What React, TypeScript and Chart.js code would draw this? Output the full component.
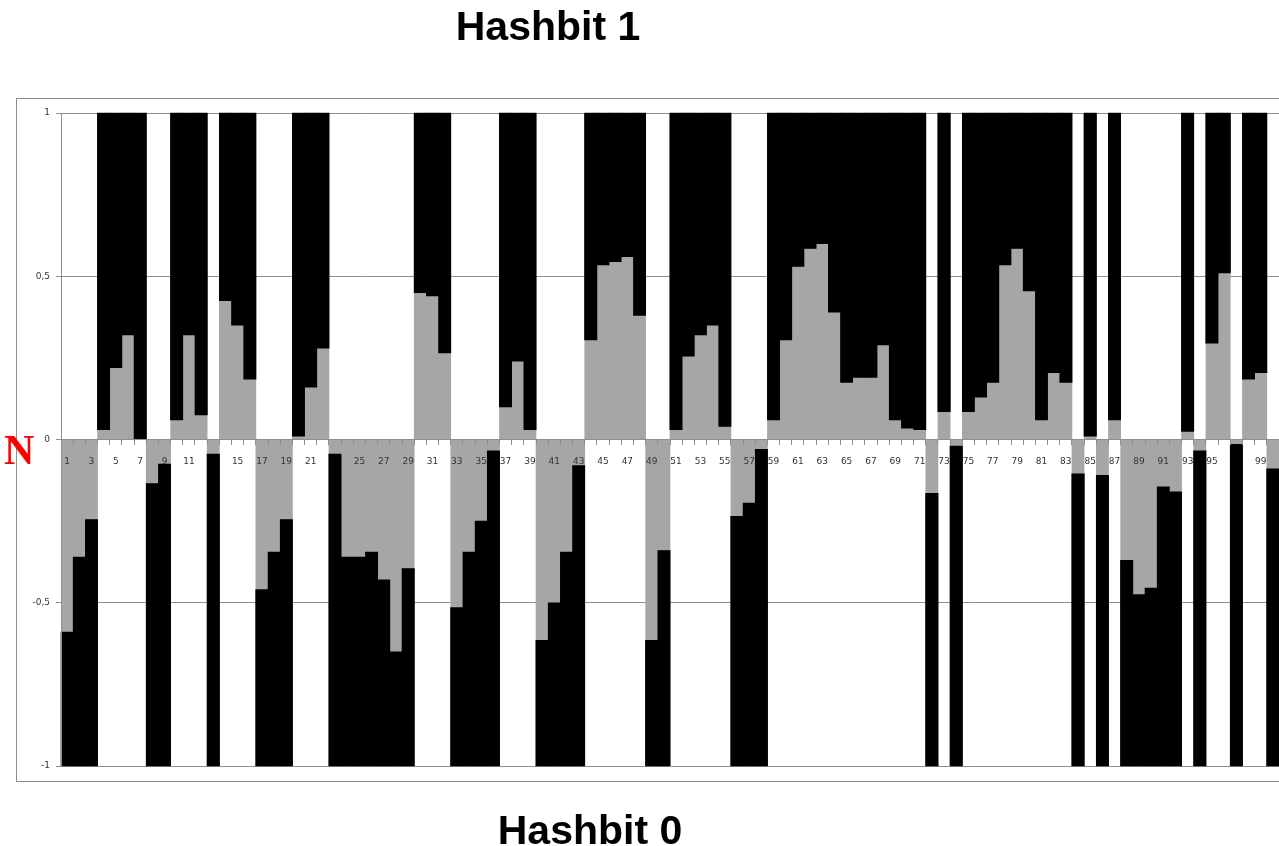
import React, { useEffect, useRef } from "react";
import { Chart, registerables } from "chart.js";

Chart.register(...registerables);

// Category labels 1..100
const categories: string[] = Array.from({ length: 100 }, (_, i) => String(i + 1));

// Hash bit per position (1 = upper black bar, 0 = lower black bar)
const hashbits: number[] = [
  0, 0, 0, 1, 1, 1, 1, 0, 0, 1,
  1, 1, 0, 1, 1, 1, 0, 0, 0, 1,
  1, 1, 0, 0, 0, 0, 0, 0, 0, 1,
  1, 1, 0, 0, 0, 0, 1, 1, 1, 0,
  0, 0, 0, 1, 1, 1, 1, 1, 0, 0,
  1, 1, 1, 1, 1, 0, 0, 0, 1, 1,
  1, 1, 1, 1, 1, 1, 1, 1, 1, 1,
  1, 0, 1, 0, 1, 1, 1, 1, 1, 1,
  1, 1, 1, 0, 1, 0, 1, 0, 0, 0,
  0, 0, 1, 0, 1, 1, 0, 1, 1, 0,
];

// Grey series: signed score per position
const scores: number[] = [
  -0.59, -0.36, -0.245, 0.03, 0.22, 0.32, 0.0, -0.135, -0.075, 0.06,
  0.32, 0.075, -0.045, 0.425, 0.35, 0.185, -0.46, -0.345, -0.245, 0.01,
  0.16, 0.28, -0.045, -0.36, -0.36, -0.345, -0.43, -0.65, -0.395, 0.45,
  0.44, 0.265, -0.515, -0.345, -0.25, -0.035, 0.1, 0.24, 0.03, -0.615,
  -0.5, -0.345, -0.08, 0.305, 0.535, 0.545, 0.56, 0.38, -0.615, -0.34,
  0.03, 0.255, 0.32, 0.35, 0.04, -0.235, -0.195, -0.03, 0.06, 0.305,
  0.53, 0.585, 0.6, 0.39, 0.175, 0.19, 0.19, 0.29, 0.06, 0.035,
  0.03, -0.165, 0.085, -0.02, 0.085, 0.13, 0.175, 0.535, 0.585, 0.455,
  0.06, 0.205, 0.175, -0.105, 0.01, -0.11, 0.06, -0.37, -0.475, -0.455,
  -0.145, -0.16, 0.025, -0.035, 0.295, 0.51, -0.015, 0.185, 0.205, -0.09,
];

const yTickValues: number[] = [1, 0.5, 0, -0.5, -1];
const yTickLabels: string[] = ["1", "0,5", "0", "-0,5", "-1"];

const topTitle = "Hashbit 1";
const bottomTitle = "Hashbit 0";
const sideMark = "N";

const GREY = "#a6a6a6";
const LINE = "#8f8f8f";
const TEXT = "#333333";

// Draws the category labels above the grey series but below the black one
const labelLayerPlugin = {
  id: "labelLayer",
  beforeDraw(chart: any) {
    const xs = chart.scales.x;
    if (xs && !xs.__patched) {
      xs.__patched = true;
      xs.drawLabels = () => {};
    }
  },
  afterDatasetsDraw(chart: any) {
    const xs = chart.scales.x;
    const proto = Object.getPrototypeOf(xs);
    proto.drawLabels.call(xs, chart.chartArea);
    const blackMeta = chart.getDatasetMeta(1);
    if (blackMeta && blackMeta.controller) blackMeta.controller.draw();
  },
};

const decorPlugin = {
  id: "decor",
  beforeDraw(chart: any) {
    const ctx = chart.ctx;
    ctx.save();
    ctx.fillStyle = "#ffffff";
    ctx.fillRect(0, 0, chart.width, chart.height);
    ctx.strokeStyle = LINE;
    ctx.lineWidth = 1;
    ctx.strokeRect(16.5, 98.5, chart.width + 20, 683);
    ctx.restore();
  },
  afterDraw(chart: any) {
    const ctx = chart.ctx;
    ctx.save();
    ctx.fillStyle = "#000000";
    ctx.textAlign = "center";
    ctx.textBaseline = "alphabetic";
    ctx.font = 'bold 41px "Liberation Sans", Arial, sans-serif';
    ctx.fillText(topTitle, 548, 40);
    ctx.fillText(bottomTitle, 590, 844);
    ctx.fillStyle = "#ff0000";
    ctx.textAlign = "left";
    ctx.font = 'bold 42px "Liberation Serif", "Times New Roman", serif';
    ctx.fillText(sideMark, 4, 464);
    ctx.restore();
  },
};

export default function App() {
  const ref = useRef<HTMLCanvasElement | null>(null);

  useEffect(() => {
    if (!ref.current) return;
    const blackData = scores.map((s, i) => (hashbits[i] ? 1 - s : -1 - s));
    const chart = new Chart(ref.current, {
      type: "bar",
      data: {
        labels: categories,
        datasets: [
          {
            label: "score",
            data: scores,
            backgroundColor: GREY,
            borderWidth: 0,
            categoryPercentage: 1,
            barPercentage: 1,
          },
          {
            label: "hashbit",
            data: blackData,
            backgroundColor: "#000000",
            borderWidth: 0,
            categoryPercentage: 1,
            barPercentage: 1,
          },
        ],
      },
      options: {
        responsive: false,
        animation: false,
        devicePixelRatio: 1,
        layout: { padding: { top: 113, bottom: 80, left: 0, right: 0 } },
        plugins: {
          legend: { display: false },
          tooltip: { enabled: false },
          title: { display: false },
        },
        scales: {
          x: {
            type: "category",
            stacked: true,
            position: { y: 0 } as any,
            offset: true,
            afterFit: (s: any) => {
              s.paddingLeft = 0;
              s.paddingRight = 0;
            },
            grid: {
              display: true,
              drawOnChartArea: false,
              drawTicks: true,
              tickLength: 5,
              offset: true,
              color: LINE,
              z: 1,
            },
            border: { display: true, color: LINE, z: 1 },
            ticks: {
              autoSkip: false,
              maxRotation: 0,
              minRotation: 0,
              padding: 12,
              color: TEXT,
              font: { family: '"DejaVu Sans", Tahoma, sans-serif', size: 9 },
              callback: (_v: any, i: number) => (i % 2 === 0 ? categories[i] : ""),
            },
          },
          y: {
            stacked: true,
            min: -1,
            max: 1,
            afterFit: (s: any) => {
              s.width = 61;
            },
            afterBuildTicks: (s: any) => {
              s.ticks = yTickValues.map((v) => ({ value: v }));
            },
            grid: {
              color: LINE,
              tickLength: 5,
              drawTicks: true,
            },
            border: { display: true, color: LINE, z: 1 },
            ticks: {
              padding: 6,
              color: TEXT,
              font: { family: '"DejaVu Sans", Tahoma, sans-serif', size: 9 },
              callback: (v: any) => {
                const idx = yTickValues.indexOf(Number(v));
                return idx >= 0 ? yTickLabels[idx] : "";
              },
            },
          },
        },
      },
      plugins: [labelLayerPlugin, decorPlugin],
    });
    return () => chart.destroy();
  }, []);

  return (
    <div style={{ position: "fixed", left: 0, top: 0, width: 1279, height: 846, background: "#fff" }}>
      <canvas ref={ref} width={1279} height={846} style={{ display: "block" }} />
    </div>
  );
}
